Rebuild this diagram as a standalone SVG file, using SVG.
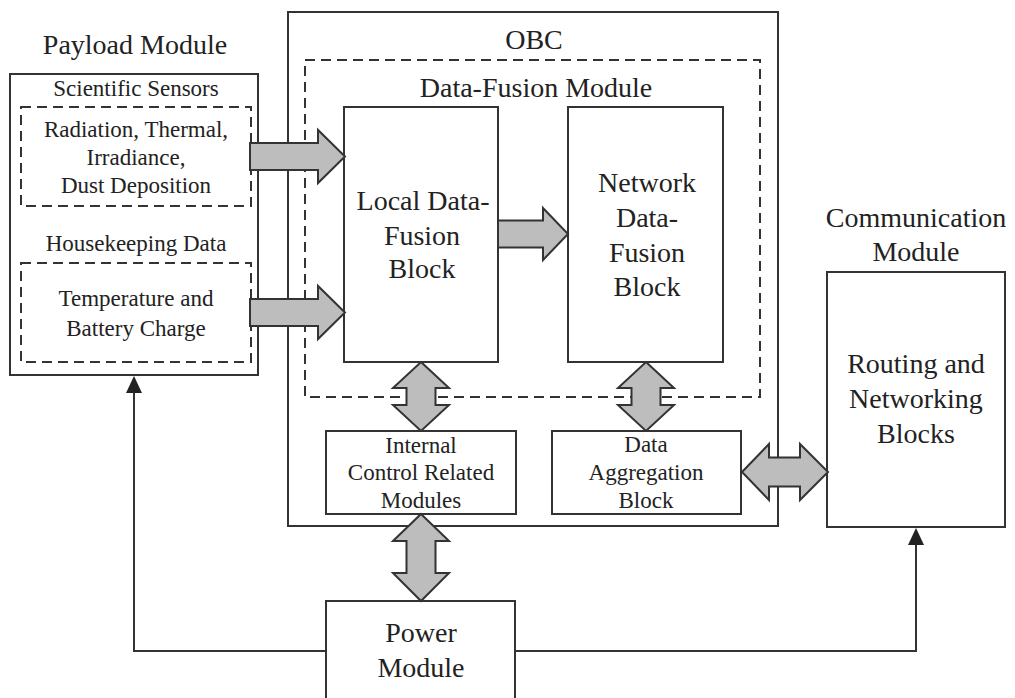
<svg xmlns="http://www.w3.org/2000/svg" width="1015" height="698" viewBox="0 0 1015 698">
<defs>
<style>
.box{fill:#fff;stroke:#333;stroke-width:2}
.dash{fill:none;stroke:#333;stroke-width:2;stroke-dasharray:10 6}
.fat{fill:#bdbdbd;stroke:#333;stroke-width:2;stroke-linejoin:miter}
.line{fill:none;stroke:#333;stroke-width:2}
.head{fill:#222;stroke:none}
text{font-family:"Liberation Serif","Times New Roman",serif;fill:#222;text-anchor:middle}
.big{font-size:28px}
.small{font-size:23px}
</style>
</defs>
<rect width="1015" height="698" fill="#fff"/>

<g id="payload">
<text class="big" x="135" y="54">Payload Module</text>
<rect class="box" x="10" y="74" width="248" height="301"/>
<text class="small" x="136" y="96">Scientific Sensors</text>
<rect class="dash" x="21" y="107" width="230" height="99"/>
<text class="small" x="136" y="137">Radiation, Thermal,</text>
<text class="small" x="136" y="165">Irradiance,</text>
<text class="small" x="136" y="193">Dust Deposition</text>
<text class="small" x="136" y="251">Housekeeping Data</text>
<rect class="dash" x="21" y="263" width="230" height="99"/>
<text class="small" x="136" y="306">Temperature and</text>
<text class="small" x="136" y="336">Battery Charge</text>
</g>

<g id="obc">
<rect class="box" x="288" y="12" width="490" height="514"/>
<text class="big" x="534" y="49">OBC</text>
</g>

<g id="datafusion">
<rect class="dash" x="305" y="60" width="455" height="337"/>
<text class="big" x="536" y="97">Data-Fusion Module</text>
</g>

<g id="local">
<rect class="box" x="344" y="107" width="154" height="255"/>
<text class="big" x="423" y="210">Local Data-</text>
<text class="big" x="422" y="245">Fusion</text>
<text class="big" x="422" y="278">Block</text>
</g>

<g id="network">
<rect class="box" x="568" y="107" width="155" height="255"/>
<text class="big" x="647" y="192">Network</text>
<text class="big" x="647" y="227">Data-</text>
<text class="big" x="647" y="262">Fusion</text>
<text class="big" x="647" y="296">Block</text>
</g>

<g id="internal">
<rect class="box" x="326" y="431" width="190" height="83"/>
<text class="small" x="421" y="453">Internal</text>
<text class="small" x="421" y="480">Control Related</text>
<text class="small" x="421" y="508">Modules</text>
</g>

<g id="aggregation">
<rect class="box" x="552" y="431" width="189" height="83"/>
<text class="small" x="646" y="452">Data</text>
<text class="small" x="646" y="480">Aggregation</text>
<text class="small" x="646" y="508">Block</text>
</g>

<g id="communication">
<text class="big" x="916" y="227">Communication</text>
<text class="big" x="916" y="261">Module</text>
<rect class="box" x="827" y="272" width="178" height="255"/>
<text class="big" x="916" y="373">Routing and</text>
<text class="big" x="916" y="408">Networking</text>
<text class="big" x="916" y="443">Blocks</text>
</g>

<g id="power">
<rect class="box" x="326" y="601" width="189" height="110"/>
<text class="big" x="421" y="642">Power</text>
<text class="big" x="421" y="677">Module</text>
</g>

<g id="connectors">
<path class="fat" d="M250,143 H318 V130 L345,156.5 L318,183 V170 H250 Z"/>
<path class="fat" d="M250,299 H318 V286 L345,312.5 L318,339 V326 H250 Z"/>
<path class="fat" d="M498,220.5 H543 V208 L568,234 L543,260 V247.5 H498 Z"/>
<path class="fat" d="M421,362 L449,388 H435.5 V405 H449 L421,431 L393,405 H406.5 V388 H393 Z"/>
<path class="fat" d="M646,362 L674,388 H660.5 V405 H674 L646,431 L618,405 H631.5 V388 H618 Z"/>
<path class="fat" d="M421,514 L449,541 H435.5 V573 H449 L421,601 L393,573 H406.5 V541 H393 Z"/>
<path class="fat" d="M742,472 L769,444 V457.5 H800 V444 L828,472 L800,500 V486.5 H769 V500 Z"/>
<path class="line" d="M326,651 H134 V390"/>
<polygon class="head" points="134,376 142,393 126,393"/>
<path class="line" d="M515,651 H916 V542"/>
<polygon class="head" points="916,528 924,545 908,545"/>
</g>
</svg>
